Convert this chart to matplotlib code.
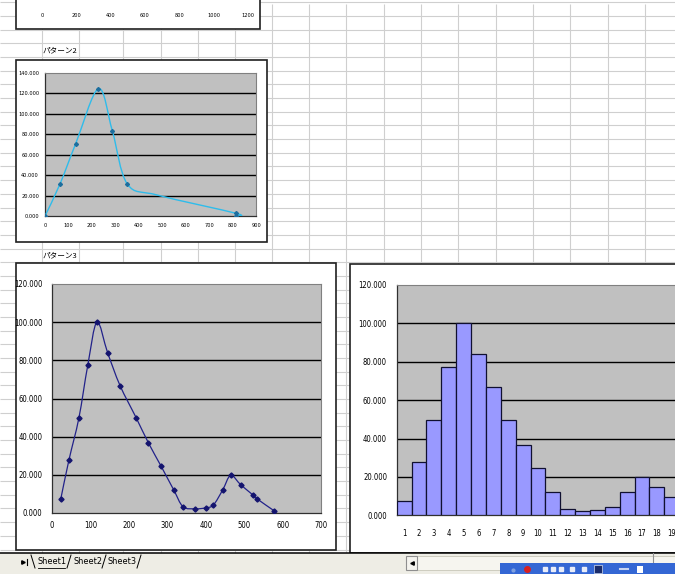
import numpy as np
import matplotlib
matplotlib.use('Agg')
import matplotlib.pyplot as plt
from matplotlib.path import Path
from matplotlib.patches import PathPatch, Rectangle
from matplotlib import font_manager

# fonts: condensed look of the Excel screenshot
names = {f.name for f in font_manager.fontManager.ttflist}
if 'Liberation Sans Narrow' in names:
    NARROW, K = ['Liberation Sans Narrow', 'DejaVu Sans'], 1.0
else:
    NARROW, K = ['DejaVu Sans'], 0.84
JP = ['Noto Sans CJK JP', 'DejaVu Sans']
plt.rcParams['font.family'] = NARROW
plt.rcParams['font.stretch'] = 'condensed'

# ---- data ----
top_xticks = [0, 200, 400, 600, 800, 1000, 1200]

p2_x = [0, 64, 131, 228, 287, 351, 482, 815, 815]
p2_y = [0.0, 31.3, 70.7, 124.4, 83.4, 31.3, 20.3, 2.6, 0.0]
p2_marked = [0, 1, 2, 3, 4, 5, 7, 8]
p2_xticks = list(range(0, 901, 100))
p2_yticks = list(range(0, 141, 20))

p3_x = [23, 44, 70, 93, 117, 145, 177, 219, 251, 284, 317,
        341, 373, 400, 420, 444, 465, 491, 522, 533, 577]
p3_y = [7.5, 27.7, 49.8, 77.3, 100.0, 83.8, 66.8, 49.9, 36.7, 24.5, 12.0,
        3.3, 2.2, 2.7, 4.2, 12.0, 19.7, 14.8, 9.6, 7.5, 1.3]
p3_xticks = list(range(0, 701, 100))
p3_yticks = list(range(0, 121, 20))

bar_cats = list(range(1, 22))
bar_vals = p3_y

labels = ['パターン2', 'パターン3']
sheets = ['Sheet1', 'Sheet2', 'Sheet3']

W, H = 675, 574
fig = plt.figure(figsize=(W/100, H/100), dpi=100)
fig.patch.set_facecolor('white')


def px_axes(x0, y0, x1, y1, **kw):
    return fig.add_axes([x0/W, 1 - y1/H, (x1 - x0)/W, (y1 - y0)/H], **kw)


def smooth_path(xs, ys):
    # Excel-like smoothed line (Catmull-Rom as cubic Bezier)
    pts = np.column_stack([xs, ys]).astype(float)
    n = len(pts)
    verts, codes = [pts[0]], [Path.MOVETO]
    for i in range(n - 1):
        p0 = pts[max(i - 1, 0)]
        p1 = pts[i]
        p2 = pts[i + 1]
        p3 = pts[min(i + 2, n - 1)]
        verts += [p1 + (p2 - p0)/6, p2 - (p3 - p1)/6, p2]
        codes += [Path.CURVE4]*3
    return Path(verts, codes)


def style(ax, fs, xpad, ypad, yticks):
    ax.set_facecolor('#C0C0C0')
    for v in yticks[1:-1]:
        ax.axhline(v, color='black', lw=1.0, zorder=1)
    for s in ('top', 'right'):
        ax.spines[s].set_color('#808080')
        ax.spines[s].set_linewidth(0.8)
    for s in ('left', 'bottom'):
        ax.spines[s].set_color('#303030')
        ax.spines[s].set_linewidth(0.9)
    ax.tick_params(length=0, labelsize=fs, colors='black')
    ax.tick_params(axis='x', pad=xpad)
    ax.tick_params(axis='y', pad=ypad)
    ax.set_yticks(yticks)
    ax.set_yticklabels(['%.3f' % v for v in yticks])


# ---- spreadsheet background ----
bg = fig.add_axes([0, 0, 1, 1], zorder=0)
bg.set_xlim(0, W)
bg.set_ylim(H, 0)
bg.axis('off')

cols = [42, 79, 123, 161, 198, 235, 272, 309, 346, 384, 421,
        458, 496, 533, 570, 608, 645]
rows = np.arange(2.3, 553, 13.68)
bg.vlines(cols, 4, 553, color='#CFCFCF', lw=0.8)
bg.hlines(rows, 0, W, color='#CFCFCF', lw=0.8)

frames = [(16, -5, 260, 29), (16, 60, 267, 242),
          (16, 263, 336, 550), (350, 264, 700, 553)]
for x0, y0, x1, y1 in frames:
    bg.add_patch(Rectangle((x0, y0), x1 - x0, y1 - y0, facecolor='white',
                           edgecolor='#202020', lw=1.2, zorder=2))

bg.text(43, 50, labels[0], family=JP, fontsize=5.5, va='center', zorder=3)
bg.text(43, 255, labels[1], family=JP, fontsize=5.5, va='center', zorder=3)

# sheet tab bar
bg.add_patch(Rectangle((0, 553), W, 21, facecolor='#EEEDE5',
                       edgecolor='none', zorder=4))
bg.plot([0, W], [553, 553], color='black', lw=1.1, zorder=5)
bg.plot([23], [562], marker='>', ms=2.5, color='black', zorder=5)
bg.plot([26.5, 26.5], [559, 565], color='black', lw=0.8, zorder=5)
tab_x = [38, 73, 108]
bg.plot([31, 35], [555, 568], color='black', lw=0.7, zorder=5)
for tx, name in zip(tab_x, sheets):
    bg.text(tx, 562, name, fontsize=7.8*K, va='center', ha='left', zorder=5)
    bg.plot([tx + 29, tx + 33], [568, 555], color='black', lw=0.7, zorder=5)
bg.plot([38, 65], [567.5, 567.5], color='black', lw=0.6, zorder=5)

# scrollbar
bg.add_patch(Rectangle((417, 556), 258, 14, facecolor='#F6F5EF',
                       edgecolor='#C8C6B8', lw=0.6, zorder=5))
bg.add_patch(Rectangle((406, 556), 11, 14, facecolor='#F4F3EE',
                       edgecolor='#8E8E8E', lw=0.8, zorder=6))
bg.plot([411.5], [563], marker='<', ms=2.5, color='black', zorder=7)
bg.plot([653, 653], [553, 563], color='#909090', lw=0.8, zorder=6)
bg.plot([671], [566], marker='>', ms=2.5, color='black', zorder=7)

# taskbar
bg.add_patch(Rectangle((500, 563), 175, 11, facecolor='#3467D4',
                       edgecolor='none', zorder=8))
bg.plot([527], [569], marker='o', ms=4, color='#D82020', zorder=9)
bg.plot([513], [570], marker='o', ms=2, color='#7FA0E0', zorder=9)
for ix in [545, 553, 561, 572, 584]:
    bg.plot([ix], [569], marker='s', ms=2.2, color='#E8ECF8', zorder=9)
bg.add_patch(Rectangle((594, 565), 8, 8, facecolor='#1A2C6A',
                       edgecolor='white', lw=0.4, zorder=9))
bg.add_patch(Rectangle((637, 566), 6, 7, facecolor='white',
                       edgecolor='none', zorder=9))
bg.plot([620, 628], [569, 569], color='#C8D4F0', lw=1.5, zorder=9)

# ---- top chart (mostly cut off) ----
ax0 = px_axes(42, -200, 248, 9, zorder=3)
ax0.set_xlim(0, 1200)
ax0.set_xticks(top_xticks)
ax0.set_xticklabels([str(v) for v in top_xticks])
ax0.set_yticks([])
ax0.patch.set_visible(False)
for s in ax0.spines.values():
    s.set_visible(False)
ax0.tick_params(length=0, labelsize=4.8*K, pad=3)

# ---- パターン2 ----
ax1 = px_axes(45, 72.7, 256, 216, zorder=3)
style(ax1, 4.8*K, 4.8, 4.3, p2_yticks)
ax1.set_xlim(0, 900)
ax1.set_ylim(0, 140)
ax1.set_xticks(p2_xticks)
ax1.add_patch(PathPatch(smooth_path(p2_x, p2_y), facecolor='none',
                        edgecolor='#2EBCEB', lw=1.0, zorder=3))
ax1.plot(p2_x, p2_y, ls='none', marker='D', ms=2, color='#1C6E9E',
         markevery=p2_marked, zorder=4)

# ---- パターン3 ----
ax2 = px_axes(52, 284, 321, 513, zorder=3)
style(ax2, 6.6*K, 5.4, 7, p3_yticks)
ax2.set_xlim(0, 700)
ax2.set_ylim(0, 120)
ax2.set_xticks(p3_xticks)
ax2.add_patch(PathPatch(smooth_path(p3_x, p3_y), facecolor='none',
                        edgecolor='#22228A', lw=0.9, zorder=3))
ax2.plot(p3_x, p3_y, ls='none', marker='D', ms=2.6, color='#14146E', zorder=4)

# ---- bar chart ----
cw = 14.87
ax3 = px_axes(396.7, 285, 396.7 + cw*len(bar_cats), 515.3, zorder=3)
style(ax3, 6.6*K, 10, 7, p3_yticks)
ax3.set_xlim(0.5, len(bar_cats) + 0.5)
ax3.set_ylim(0, 120)
ax3.bar(bar_cats, bar_vals, width=1.0, color='#9999FF',
        edgecolor='#101030', lw=0.9, zorder=3)
ax3.set_xticks(bar_cats)
ax3.set_xticklabels([str(c) for c in bar_cats])

fig.savefig('out.png', dpi=100)
